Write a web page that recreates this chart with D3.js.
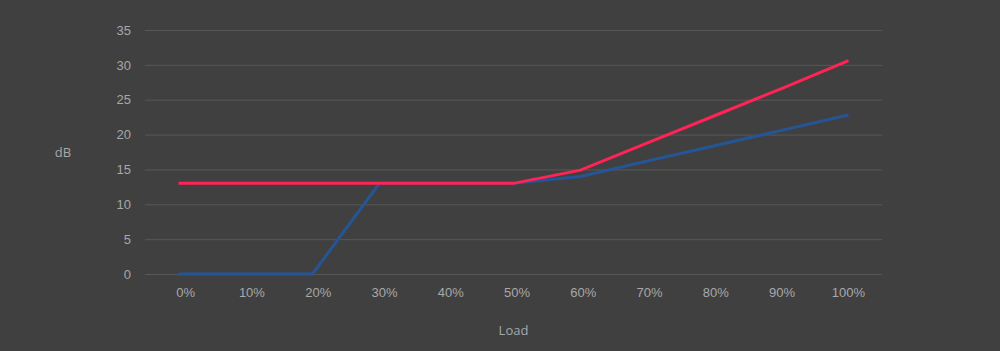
<!DOCTYPE html>
<html>
<head>
<meta charset="UTF-8">
<title>load-db</title>
<style>
  body { margin: 0; background: #404040; }
  svg { display: block; font-family: "Open Sans", "Noto Sans", sans-serif; }
  .tick text { fill: #a8a8a8; font-size: 13px; }
  .grid line { stroke: #575757; stroke-width: 1px; }
  .label { fill: #a8a8a8; font-size: 13px; }
</style>
</head>
<body>
<script src="https://cdn.jsdelivr.net/npm/d3@7"></script>
<script>
var loads = ["0%", "10%", "20%", "30%", "40%", "50%", "60%", "70%", "80%", "90%", "100%"];
var blueValues = [0, 0, 0, 13, 13, 13, 14, 16.2, 18.4, 20.6, 22.8];
var redValues = [13, 13, 13, 13, 13, 13, 14.9, 18.8, 22.7, 26.6, 30.6];
var yTicks = [0, 5, 10, 15, 20, 25, 30, 35];

var width = 1000, height = 351,
    plotLeft = 145, plotRight = 882, plotTop = 30, plotBottom = 274;

var svg = d3.select("body").append("svg")
    .attr("width", width)
    .attr("height", height);

svg.append("rect").attr("width", width).attr("height", height).attr("fill", "#404040");

var x = d3.scalePoint()
    .domain(loads)
    .range([plotLeft, plotRight])
    .padding(0.5);

// labels sit a touch right of the points in the original
var xLabels = d3.scalePoint()
    .domain(loads)
    .range([plotLeft + 7, plotRight - 1])
    .padding(0.5);

var y = d3.scaleLinear()
    .domain([0, 35])
    .range([plotBottom, plotTop]);

// grid lines
svg.append("g")
    .attr("class", "grid")
    .selectAll("line")
    .data(yTicks)
  .enter().append("line")
    .attr("x1", plotLeft)
    .attr("x2", plotRight)
    .attr("y1", function(d){ return y(d) + 0.5; })
    .attr("y2", function(d){ return y(d) + 0.5; });

var yAxis = d3.axisLeft(y).tickValues(yTicks).tickSize(0).tickPadding(14);
svg.append("g")
    .attr("transform", "translate(" + plotLeft + ",0)")
    .call(yAxis)
    .call(function(g){ g.select(".domain").remove(); });

var xAxis = d3.axisBottom(xLabels).tickSize(0).tickPadding(14);
svg.append("g")
    .attr("transform", "translate(0," + plotBottom + ")")
    .call(xAxis)
    .call(function(g){ g.select(".domain").remove(); });

svg.append("text")
    .attr("class", "label")
    .attr("x", 63)
    .attr("y", 157)
    .attr("text-anchor", "middle")
    .text("dB");

svg.append("text")
    .attr("class", "label")
    .attr("x", (plotLeft + plotRight) / 2)
    .attr("y", 335)
    .attr("text-anchor", "middle")
    .text("Load");

var line = d3.line()
    .x(function(d, i){ return x(loads[i]); })
    .y(function(d){ return y(d); });

svg.append("path")
    .datum(blueValues)
    .attr("fill", "none")
    .attr("stroke", "#255595")
    .attr("stroke-width", 3)
    .attr("d", line);

svg.append("path")
    .datum(redValues)
    .attr("fill", "none")
    .attr("stroke", "#ff2356")
    .attr("stroke-width", 3)
    .attr("d", line);
</script>
</body>
</html>
